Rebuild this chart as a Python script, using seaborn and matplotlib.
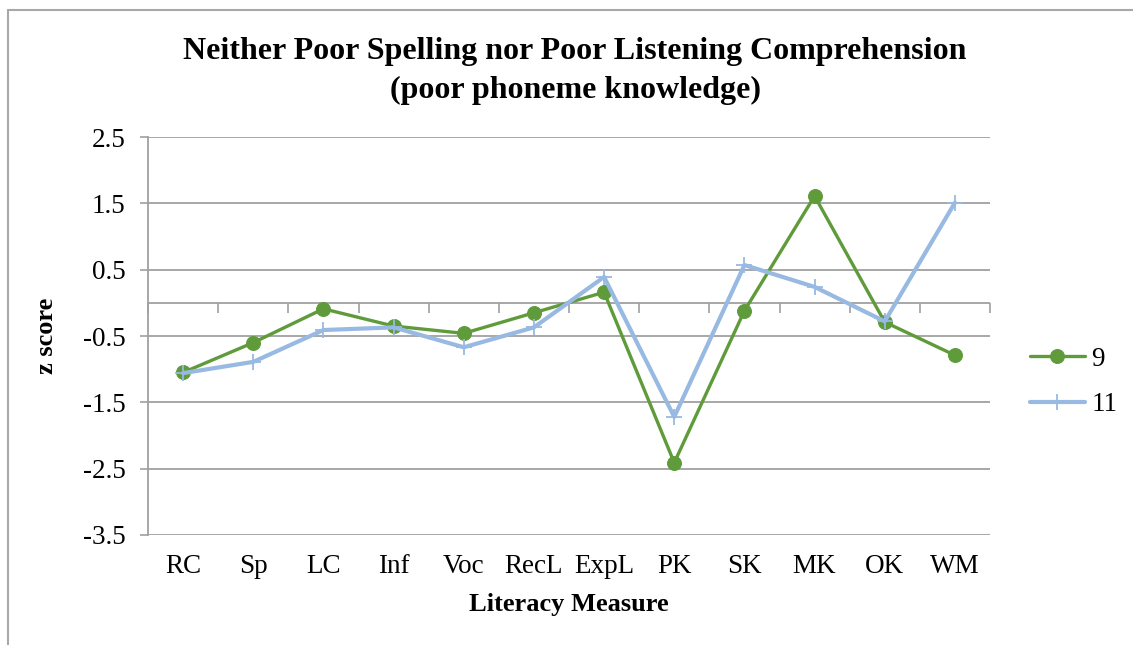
import matplotlib
matplotlib.use("Agg")
import matplotlib.pyplot as plt
from matplotlib.lines import Line2D
import seaborn as sns
import pandas as pd

categories = ["RC", "Sp", "LC", "Inf", "Voc", "RecL", "ExpL", "PK", "SK", "MK", "OK", "WM"]
age9 = [-1.05, -0.60, -0.09, -0.35, -0.46, -0.15, 0.16, -2.41, -0.12, 1.61, -0.29, -0.79]
age11 = [-1.06, -0.89, -0.41, -0.37, -0.67, -0.37, 0.39, -1.72, 0.57, 0.24, -0.28, 1.51]
series_names = ["9", "11"]
yticks = [2.5, 1.5, 0.5, -0.5, -1.5, -2.5, -3.5]

sns.set_theme(style="white")
plt.rcParams["font.family"] = ["Liberation Serif", "DejaVu Serif"]
plt.rcParams["text.color"] = "black"
plt.rcParams["axes.labelcolor"] = "black"
plt.rcParams["xtick.color"] = "black"
plt.rcParams["ytick.color"] = "black"

W, H = 1133, 645
fig = plt.figure(figsize=(W / 100, H / 100), dpi=100)
ax = fig.add_axes([148 / W, 1 - 535 / H, (990 - 148) / W, (535 - 137) / H])

df9 = pd.DataFrame({"x": list(range(len(categories))), "z": age9})
df11 = pd.DataFrame({"x": list(range(len(categories))), "z": age11})

green = "#5F9B3A"
blue = "#98B9E2"
grid = "#A0A0A0"

sns.lineplot(data=df9, x="x", y="z", ax=ax, color=green, linewidth=2.4,
             marker="o", markersize=10, markeredgecolor=green, label=series_names[0], zorder=3)
sns.lineplot(data=df11, x="x", y="z", ax=ax, color=blue, linewidth=3.0,
             marker="+", markersize=11, markeredgewidth=1.3, markeredgecolor=blue,
             label=series_names[1], zorder=4)

ax.set_xlim(-0.5, len(categories) - 0.5)
ax.set_ylim(-3.5, 2.5)
ax.set_yticks(yticks)
ax.set_yticklabels([f"{v:g}" for v in yticks], fontsize=19.5)
ax.set_xticks(range(len(categories)))
ax.set_xticklabels(categories, fontsize=19.5)
ax.tick_params(axis="x", length=0, pad=14, labelcolor="black")
ax.tick_params(axis="y", length=6, width=1.2, color=grid, direction="out", left=True, pad=10,
               labelcolor="black")

ax.grid(axis="y", color=grid, linewidth=1.3)
ax.grid(axis="x", visible=False)
for s in ["top", "right", "bottom"]:
    ax.spines[s].set_visible(False)
ax.spines["left"].set_color(grid)
ax.spines["left"].set_linewidth(1.3)

# category axis crossing at zero
ax.axhline(0, color=grid, linewidth=1.3, zorder=1)
sec = ax.secondary_xaxis(3.5 / 6.0)
sec.xaxis.set_ticks_position("bottom")
sec.set_xticks([i - 0.5 for i in range(len(categories) + 1)])
sec.set_xticklabels([])
sec.tick_params(axis="x", direction="out", length=7, width=1.2, color=grid)
for s in ["top", "left", "right", "bottom"]:
    sec.spines[s].set_visible(False)

ax.set_xlabel("Literacy Measure", fontsize=19, fontweight="bold", labelpad=10, color="black")
ax.set_ylabel("z score", fontsize=19, fontweight="bold", labelpad=18, color="black")

fig.text(575 / W, 1 - 52 / H, "Neither Poor Spelling nor Poor Listening Comprehension",
         ha="center", va="center", fontsize=23, fontweight="bold", color="black")
fig.text(575 / W, 1 - 90 / H, "(poor phoneme knowledge)",
         ha="center", va="center", fontsize=23, fontweight="bold", color="black")

leg = ax.legend(loc="center left", bbox_to_anchor=(1006 / W, 1 - 382 / H),
                bbox_transform=fig.transFigure, frameon=False, fontsize=19.5,
                handlelength=2.0, labelspacing=0.75, handletextpad=0.25)
for t in leg.get_texts():
    t.set_color("black")

# outer frame
fig.add_artist(Line2D([8 / W, 8 / W], [1 - 10 / H, 0], transform=fig.transFigure,
                      color="#A8A8A8", linewidth=1.5))
fig.add_artist(Line2D([8 / W, 1], [1 - 10 / H, 1 - 10 / H], transform=fig.transFigure,
                      color="#A8A8A8", linewidth=1.5))

fig.savefig("out.png", dpi=100)
